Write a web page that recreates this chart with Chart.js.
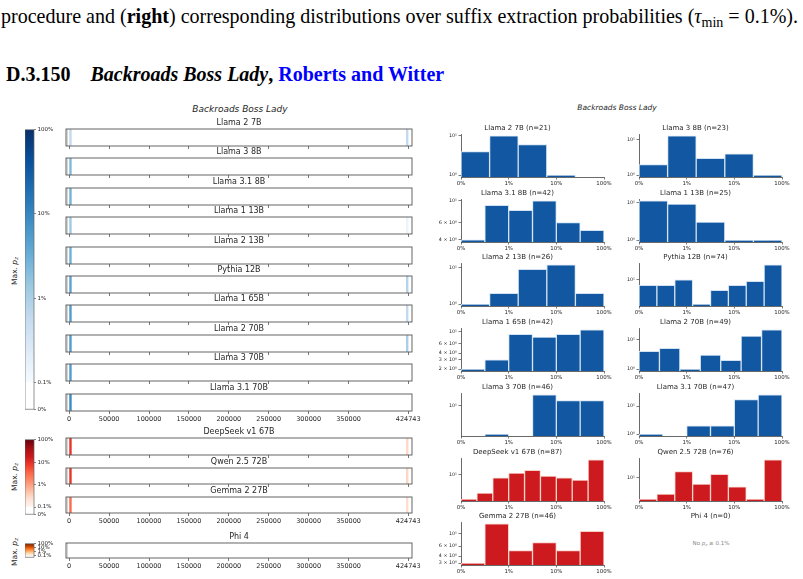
<!DOCTYPE html>
<html><head><meta charset="utf-8">
<script src="https://cdn.jsdelivr.net/npm/chart.js@4.4.1/dist/chart.umd.min.js"></script>
<style>
body{margin:0;width:803px;height:579px;overflow:hidden;background:#fff;position:relative;font-family:"DejaVu Sans";}
canvas{position:absolute;}
.t{position:absolute;white-space:nowrap;color:#000;}
.c{position:absolute;white-space:nowrap;transform:translate(-50%,-50%);color:#262626;}
.rot{position:absolute;white-space:nowrap;transform:translate(-50%,-50%) rotate(-90deg);font-size:7.5px;color:#262626;}
sub{font-size:70%;vertical-align:-0.25em;line-height:0;}
</style></head><body>
<div class="t" id="hdr" style="left:1px;top:6px;font-family:'Liberation Serif';font-size:20.05px;line-height:1;">procedure and (<b>right</b>) corresponding distributions over suffix extraction probabilities (<i>τ</i><sub>min</sub> = 0.1%).</div>
<div class="t" id="sec" style="left:6px;top:64px;font-family:'Liberation Serif';font-size:20px;font-weight:bold;line-height:1;">D.3.150<span style="display:inline-block;width:20px"></span><i>Backroads Boss Lady</i>, <span style="color:#0000ff">Roberts and Witter</span></div>
<div class="c" style="left:240px;top:109px;font-size:9px;font-style:italic;">Backroads Boss Lady</div>
<div class="c" style="left:617px;top:107px;font-size:7.5px;font-style:italic;">Backroads Boss Lady</div>
<div class="rot" style="left:14px;top:271px;">Max. <i>p<sub>z</sub></i></div>
<div class="rot" style="left:14px;top:477px;">Max. <i>p<sub>z</sub></i></div>
<div class="rot" style="left:14px;top:552px;">Max. <i>p<sub>z</sub></i></div>
<div class="c" style="left:711px;top:543px;font-size:5.5px;color:#888;">No <i>p<sub>z</sub></i> ≥ 0.1%</div>
<script>
// ---------------- DATA ----------------
const models = ['Llama 2 7B','Llama 3 8B','Llama 3.1 8B','Llama 1 13B','Llama 2 13B','Pythia 12B','Llama 1 65B','Llama 2 70B','Llama 3 70B','Llama 3.1 70B','DeepSeek v1 67B','Qwen 2.5 72B','Gemma 2 27B','Phi 4'];
const modelFamily = ['blue','blue','blue','blue','blue','blue','blue','blue','blue','blue','red','red','red','orange'];
const bookLength = 424743;
const stripTicks = [0,50000,100000,150000,200000,250000,300000,350000,424743];
const windowTokens = 2200;
// positions (token offsets) of extraction windows and their max p_z
const stripPos = [[1600,423500],[1600],[1600],[1600,423500],[1600],[1600,423500],[1600,423500],[1600,423500],[1600],[1600],[1600,423500],[1600,423500],[1600,423500],[]];
const stripP   = [[0.006,0.006],[0.022],[0.027],[0.013,0.0015],[0.03],[0.045,0.008],[0.055,0.006],[0.055,0.01],[0.055],[0.09],[0.09,0.0028],[0.09,0.003],[0.03,0.0025],[]];
// colorbar
const cbarTickP = [0,0.001,0.01,0.1,1];
const cbarTickLabels = ['0%','0.1%','1%','10%','100%'];
// histograms of p_z (log bins 0.1% .. 100%), counts per bin
const hLlama2_7B   = [4,10,6,1,0];
const hLlama3_8B   = [2,13,3,4,1];
const hLlama31_8B  = [4,9,8,10,6,5];
const hLlama1_13B  = [11,9,3,1,1];
const hLlama2_13B  = [1,2,9,12,2];
const hPythia12B   = [7,7,10,2,5,7,9,27];
const hLlama1_65B  = [2,3,9,8,9,11];
const hLlama2_70B  = [4,5,1,3,2,13,21];
const hLlama3_70B  = [null,2,null,18,13,13];
const hLlama31_70B = [1,null,2,2,17,25];
const hDeepSeek67B = [2,3,8,11,13,9,8,7,26];
const hQwen25_72B  = [3,4,14,7,12,6,3,27];
const hGemma2_27B  = [3,15,5,7,5,11];
const hPhi4        = [];
const histCounts = [hLlama2_7B,hLlama3_8B,hLlama31_8B,hLlama1_13B,hLlama2_13B,hPythia12B,hLlama1_65B,hLlama2_70B,hLlama3_70B,hLlama31_70B,hDeepSeek67B,hQwen25_72B,hGemma2_27B,hPhi4];
const histYTicks = [[1,10],[1,10],[4,6,10],[1,10],[1,10],[10],[2,3,4,6,10],[1,10],[10],[1,10],[10],[10],[3,4,6,10],[]];
const histXTickVals = [-3,-2,-1,0];
const histXTickLabels = ['0%','1%','10%','100%'];

// ---------------- STYLE ----------------
Chart.defaults.font.family = 'DejaVu Sans';
Chart.defaults.color = '#262626';
Chart.defaults.animation = false;
Chart.defaults.responsive = false;
Chart.defaults.devicePixelRatio = 1;
Chart.defaults.plugins.legend.display = false;
Chart.defaults.plugins.tooltip.enabled = false;

const CMAPS = {
  blue:['#f7fbff','#deebf7','#c6dbef','#9ecae1','#6baed6','#4292c6','#2171b5','#08519c','#08306b'],
  red:['#fff5f0','#fee0d2','#fcbba1','#fc9272','#fb6a4a','#ef3b2c','#cb181d','#a50f15','#67000d'],
  orange:['#fff5eb','#fee6ce','#fdd0a2','#fdae6b','#fd8d3c','#f16913','#d94801','#a63603','#7f2704']
};
const BAR = {blue:'#1157a1', red:'#cc1a1f', orange:'#e6550d'};
const BAREDGE = {blue:'#d2e2f2', red:'#f7d0c8', orange:'#fdd0a2'};
function hex2rgb(h){return [1,3,5].map(i=>parseInt(h.substr(i,2),16));}
function cmap(stops,t){
  t=Math.max(0,Math.min(1,t));
  const x=t*(stops.length-1), i=Math.min(Math.floor(x),stops.length-2), f=x-i;
  const a=hex2rgb(stops[i]), b=hex2rgb(stops[i+1]);
  return 'rgb('+a.map((v,k)=>Math.round(v+(b[k]-v)*f)).join(',')+')';
}
function colorForP(fam,p){ return cmap(CMAPS[fam],(Math.log10(p)+3)/3); }
const U_ZERO = 0.32;
function uOf(p){ return p < 0.001 ? p/0.001*U_ZERO : U_ZERO + Math.log10(p/0.001); }
const U_MAX = uOf(1);

function addCanvas(left, top, w, h){
  const c=document.createElement('canvas');
  c.width=w;c.height=h;
  c.style.left=left+'px';c.style.top=top+'px';c.style.width=w+'px';c.style.height=h+'px';
  document.body.appendChild(c);
  return c;
}
const boxPlugin = {
  id:'box',
  afterDatasetsDraw(chart,args,opts){
    if(!opts || !opts.on) return;
    const {ctx,chartArea:a}=chart;
    ctx.save();
    if(opts.leftBand){
      ctx.fillStyle='#d4d4d4';
      ctx.fillRect(a.left+0.6,a.top,1.4,a.bottom-a.top);
    }
    ctx.strokeStyle=opts.color||'#555';
    ctx.lineWidth=opts.width||0.9;
    ctx.strokeRect(a.left,a.top,a.right-a.left,a.bottom-a.top);
    ctx.restore();
  }
};
Chart.register(boxPlugin);

// ---------------- STRIPS ----------------
const SX = 66, SW = 346;
function makeStrip(k, boxTop, boxH, showLabels){
  const titleH = 10.6, axisH = showLabels ? 14 : 4, pad = 24;
  const c = addCanvas(SX-pad, boxTop-11, SW+2*pad, 11+boxH+axisH);
  const fam = modelFamily[k];
  const ds = stripPos[k].map((pos,j)=>({
    data:[[pos-windowTokens/2, pos+windowTokens/2]],
    backgroundColor: colorForP(fam, stripP[k][j]),
    borderWidth:0, grouped:false, barPercentage:1, categoryPercentage:1
  }));
  new Chart(c,{
    type:'bar',
    data:{labels:[''],datasets:ds},
    options:{
      indexAxis:'y',
      layout:{padding:{left:pad,right:pad,top:0.4,bottom:0}},
      scales:{
        x:{type:'linear',min:-4000,max:429500,offset:false,
           afterBuildTicks:s=>{s.ticks=stripTicks.map(v=>({value:v}));},
           afterFit:s=>{s.height=axisH;},
           ticks:{display:showLabels,autoSkip:false,maxRotation:0,padding:1,font:{size:6.5},color:'#262626',callback:v=>String(v)},
           grid:{drawOnChartArea:false,drawTicks:true,tickLength:3,color:'#555',lineWidth:0.8,offset:false},
           border:{display:false}},
        y:{display:false}
      },
      plugins:{
        title:{display:true,text:models[k],font:{size:8,lineHeight:1.2,weight:'normal'},color:'#262626',padding:{top:0,bottom:1}},
        box:{on:true,leftBand:true,color:'#555',width:0.9}
      }
    }
  });
}
for(let i=0;i<10;i++){ makeStrip(i, Math.round(129+29.4*i), 17, i===9); }
makeStrip(10,438,17,false);
makeStrip(11,468,16,false);
makeStrip(12,497,16,true);
makeStrip(13,543,15,true);

// ---------------- COLORBARS ----------------
function makeCbar(fam, top, h, tickIdx){
  const padV=4, axW=22;
  const c = addCanvas(25, top-padV, 9+axW, h+2*padV);
  const stops = CMAPS[fam];
  new Chart(c,{
    type:'bar',
    data:{labels:[''],datasets:[{data:[[0,U_MAX]],borderWidth:0,barPercentage:1,categoryPercentage:1,
      backgroundColor:(ctx)=>{
        const ch=ctx.chart; if(!ch.chartArea) return '#fff';
        const y=ch.scales.y;
        const g=ch.ctx.createLinearGradient(0,y.getPixelForValue(0),0,y.getPixelForValue(U_MAX));
        g.addColorStop(0,'#ffffff'); g.addColorStop(U_ZERO/U_MAX-0.002,'#ffffff');
        stops.forEach((s,i)=>g.addColorStop((U_ZERO+3*i/(stops.length-1))/U_MAX,s));
        return g;
      }}]},
    options:{
      layout:{padding:{top:padV,bottom:padV,left:0,right:0}},
      scales:{
        x:{display:false},
        y:{type:'linear',position:'right',min:0,max:U_MAX,
           afterBuildTicks:s=>{s.ticks=tickIdx.map(i=>({value:uOf(cbarTickP[i])}));},
           afterFit:s=>{s.width=axW;},
           ticks:{autoSkip:false,padding:1.5,font:{size:5.5},color:'#262626',callback:(v,i)=>cbarTickLabels[tickIdx[i]]},
           grid:{drawOnChartArea:false,tickLength:2,color:'#555',lineWidth:0.7},
           border:{display:false}}
      },
      plugins:{box:{on:true,color:'#666',width:0.7}}
    }
  });
}
makeCbar('blue',129,281,[0,1,2,3,4]);
makeCbar('red',439,76,[0,1,2,3,4]);
makeCbar('orange',543,15,[1,2,3,4]);

// ---------------- HISTOGRAMS ----------------
function fmtY(v){ return v===10?'10¹':(v===1?'10⁰':(v+' × 10⁰')); }
function makeHist(k){
  const col=k%2,row=Math.floor(k/2);
  const cx = col? 639:461, cw=143;
  const cy = Math.round(134+64.7*row), chh=43;
  const titleH=10, axH=16, yW=30;
  const c = addCanvas(cx-yW, cy-titleH, cw+2*yW, titleH+chh+axH);
  const counts = histCounts[k];
  const fam = modelFamily[k];
  const n = counts.reduce((a,b)=>a+(b||0),0);
  const title = models[k]+' (n='+n+')';
  const titleOpt = {display:true,text:title,font:{size:7,lineHeight:1.2,weight:'normal'},color:'#262626',padding:{top:0,bottom:titleH-7*1.2}};
  if(!counts.length){
    new Chart(c,{type:'bar',data:{labels:[],datasets:[]},options:{
      layout:{padding:{left:yW,right:yW,bottom:axH}},
      scales:{x:{display:false},y:{display:false}},
      plugins:{title:titleOpt}}});
    return;
  }
  const pos = counts.filter(v=>v);
  const lo=Math.log10(Math.min(...pos)), hi=Math.log10(Math.max(...pos)), m=(hi-lo)*0.045;
  new Chart(c,{
    type:'bar',
    data:{labels:counts.map((_,i)=>'bin'+(i+1)),datasets:[{data:counts,backgroundColor:BAR[fam],borderColor:BAREDGE[fam],borderWidth:1,barPercentage:1,categoryPercentage:1,xAxisID:'x',yAxisID:'y'}]},
    options:{
      layout:{padding:{left:0,right:yW,top:0,bottom:0}},
      scales:{
        x:{type:'category',display:false},
        xt:{type:'linear',axis:'x',position:'bottom',min:-3,max:0,offset:false,
            afterBuildTicks:s=>{s.ticks=histXTickVals.map(v=>({value:v}));},
            afterFit:s=>{s.height=axH;},
            ticks:{autoSkip:false,maxRotation:0,padding:1,font:{size:5.4},color:'#262626',callback:(v,i)=>histXTickLabels[i]},
            grid:{drawOnChartArea:false,tickLength:2.5,color:'#444',lineWidth:0.7,offset:false},
            border:{display:true,color:'#444',width:0.8}},
        y:{type:'logarithmic',min:Math.pow(10,lo-m),max:Math.pow(10,hi+m),
           afterBuildTicks:s=>{s.ticks=histYTicks[k].map(v=>({value:v}));},
           afterFit:s=>{s.width=yW;},
           ticks:{autoSkip:false,padding:1.5,font:{size:4.8},color:'#262626',callback:v=>fmtY(v)},
           grid:{drawOnChartArea:false,tickLength:2.5,color:'#444',lineWidth:0.7},
           border:{display:true,color:'#444',width:0.8}}
      },
      plugins:{title:titleOpt}
    }
  });
}
for(let k=0;k<14;k++) makeHist(k);
</script>
</body></html>
